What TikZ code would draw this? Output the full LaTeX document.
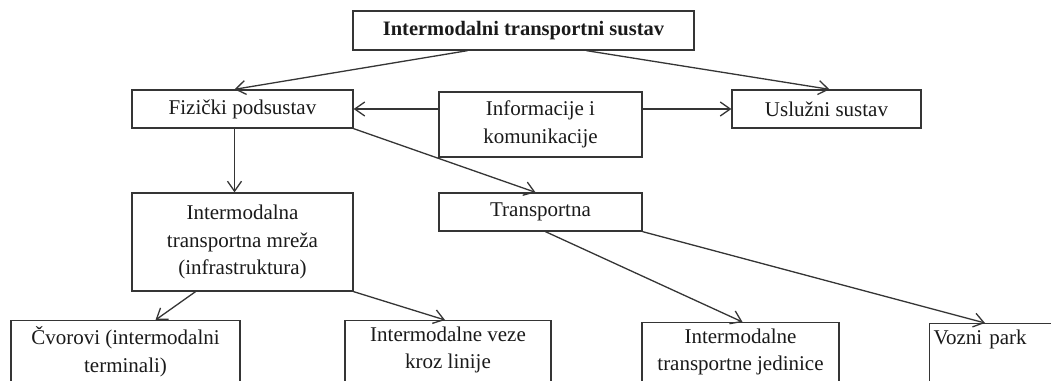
\documentclass[tikz,border=0pt]{standalone}
\usepackage{fontspec}
\setmainfont{Liberation Serif}
\usetikzlibrary{arrows.meta,calc}
\definecolor{linec}{HTML}{353535}
\definecolor{textc}{HTML}{1A1A1A}
\tikzset{
  box/.style={draw=linec, line width=1.3pt, rectangle, inner sep=0pt, align=center,
    text=textc, font=\fontsize{21}{27.5}\selectfont},
  lowbox/.style={box, anchor=north, inner ysep=6pt, text depth=60pt},
  arr/.style={draw=linec, line width=1.3pt, -{Straight Barb[length=10pt,width=14pt,line width=1.3pt]}}
}
\begin{document}
\begin{tikzpicture}[x=1pt,y=-1pt]
\useasboundingbox (0,0) rectangle (1051,380);
\clip (0,0) rectangle (1051,380);
\fill[white] (0,0) rectangle (1051,380);
\node[box, minimum width=341pt, minimum height=39pt, font=\fontsize{20.5}{24}\selectfont\bfseries] (title) at (523.5,30.5) {Intermodalni transportni sustav};
\node[box, minimum width=221pt, minimum height=38pt] (fiz) at (242.5,109) {Fizički podsustav};
\node[box, minimum width=203pt, minimum height=65pt] (info) at (540.5,124.5) {Informacije i\\komunikacije};
\node[box, minimum width=189pt, minimum height=38pt] (usl) at (826.5,109) {Uslužni sustav};
\node[box, minimum width=221pt, minimum height=98pt] (mreza) at (242.5,242) {Intermodalna\\transportna mreža\\(infrastruktura)};
\node[box, minimum width=203pt, minimum height=38pt] (trans) at (540.5,212) {Transportna};
\node[lowbox, minimum width=229pt] (cvor) at (125.5,320) {Čvorovi (intermodalni\\terminali)};
\node[lowbox, minimum width=206pt] (veze) at (448,320) {Intermodalne veze\\kroz linije};
\node[lowbox, minimum width=197pt] (jed) at (740.5,322) {Intermodalne\\transportne jedinice};
\node[box, anchor=north west, text width=150pt, align=left, inner xsep=4pt, inner ysep=6pt, text depth=60pt] (vozni) at (929,323) {Vozni park};
\draw[arr] ([xshift=-56pt]title.south) -- ([xshift=-8pt]fiz.north);
\draw[arr] ([xshift=63pt]title.south) -- ([xshift=3pt]usl.north);
\draw[arr] (info.west |- fiz.east) -- (fiz.east);
\draw[arr] (info.east |- usl.west) -- (usl.west);
\draw[arr] ([xshift=-8pt]fiz.south) -- ([xshift=-8pt]mreza.north);
\draw[arr] (fiz.south east) -- ([xshift=-5pt]trans.north);
\draw[arr] ([xshift=-47pt]mreza.south) -- ([xshift=30pt]cvor.north);
\draw[arr] (mreza.south east) -- ([xshift=-3pt]veze.north);
\draw[arr] ([xshift=5pt]trans.south) -- ([xshift=2pt]jed.north);
\draw[arr] (trans.south east) -- ([xshift=56pt]vozni.north west);
\end{tikzpicture}
\end{document}
